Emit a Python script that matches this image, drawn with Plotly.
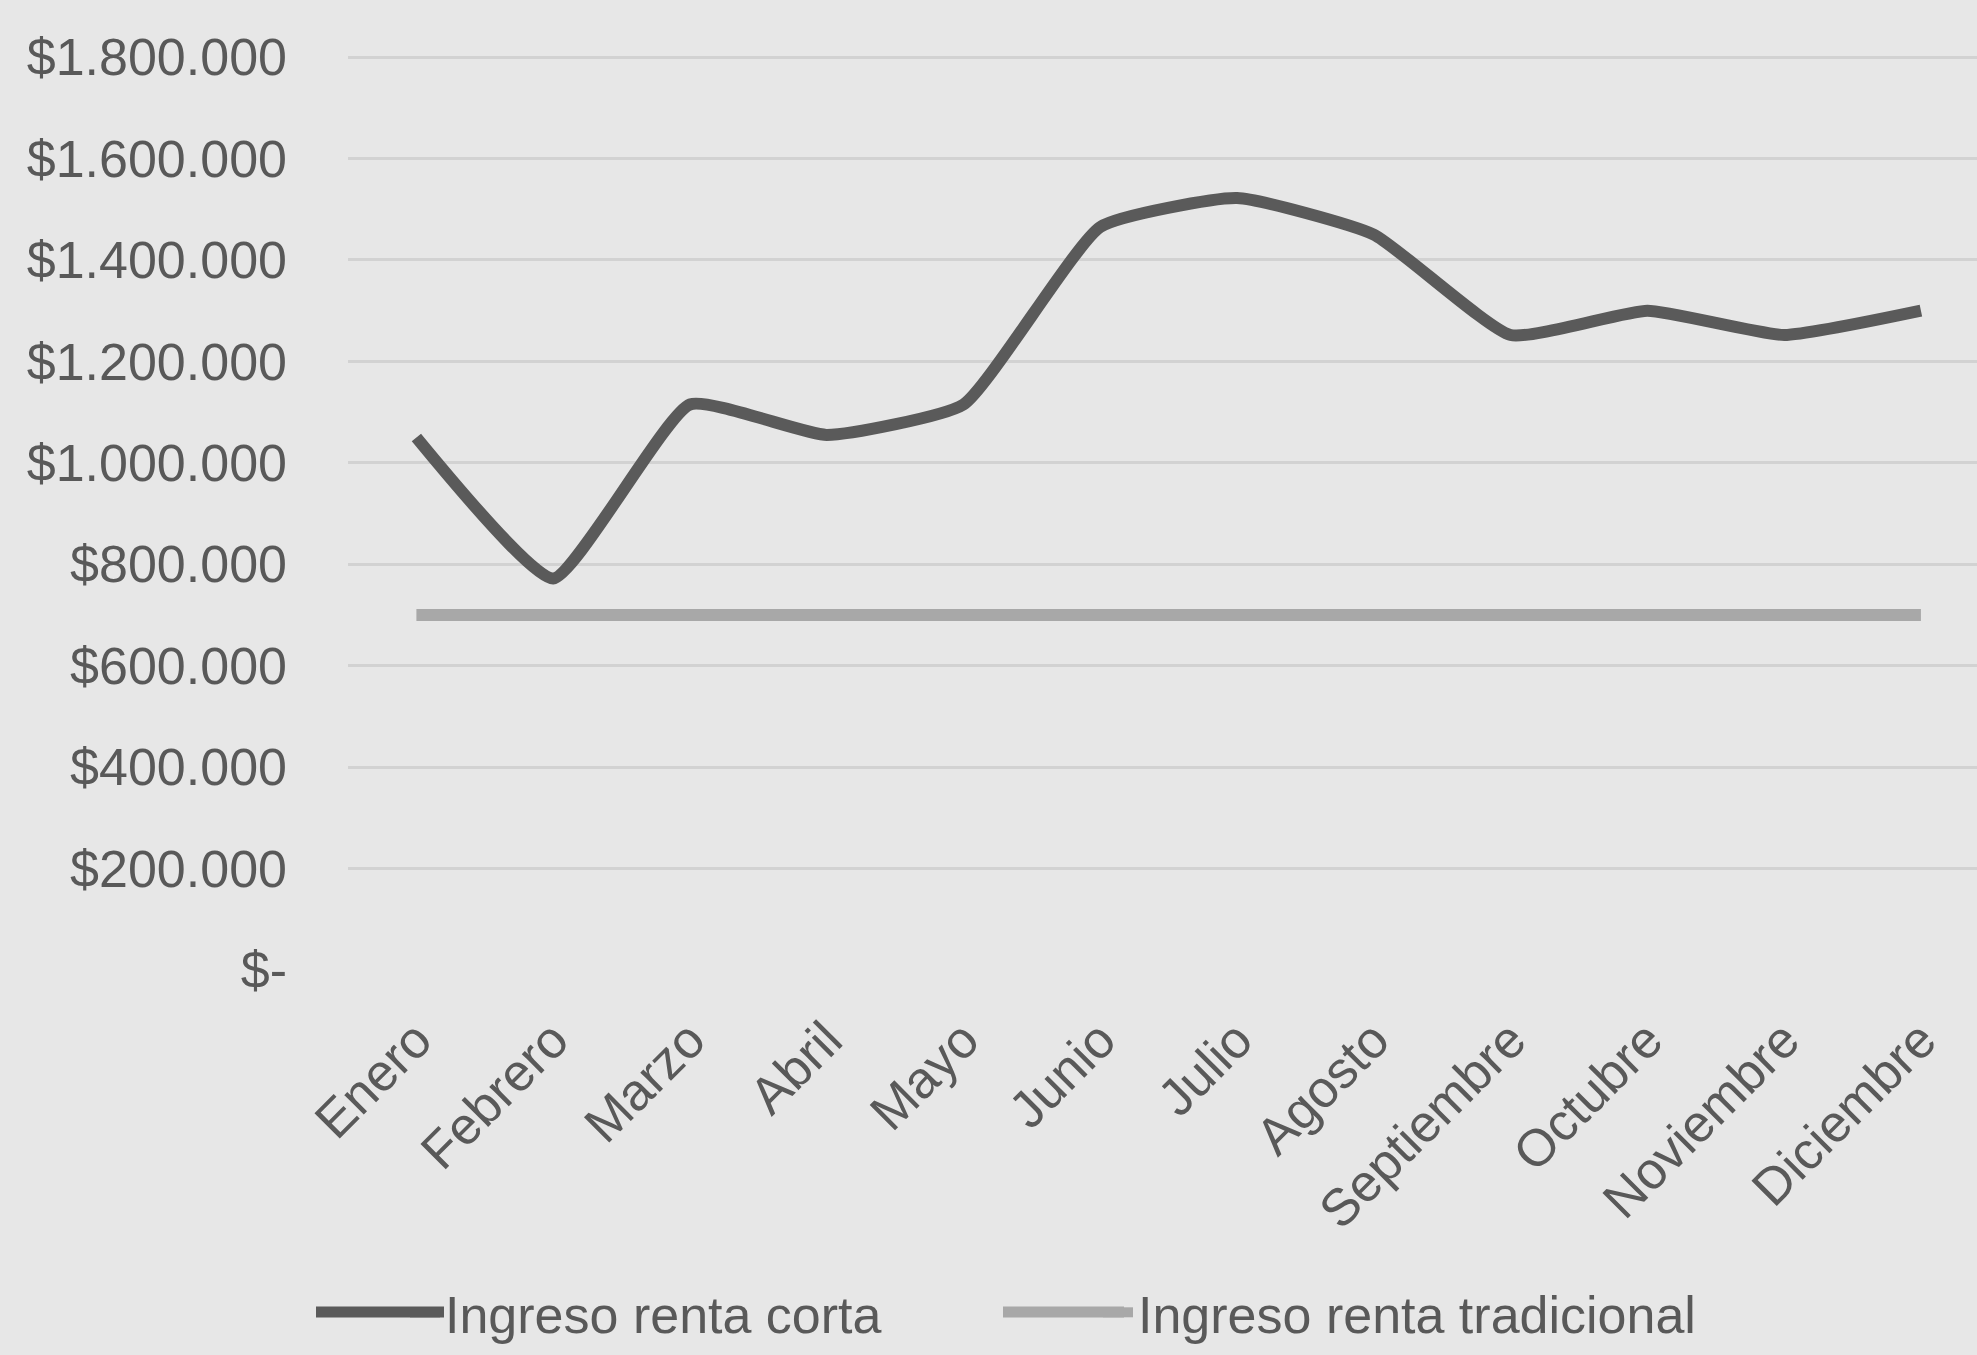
import plotly.graph_objects as go

meses = ["Enero", "Febrero", "Marzo", "Abril", "Mayo", "Junio", "Julio",
         "Agosto", "Septiembre", "Octubre", "Noviembre", "Diciembre"]
renta_corta = [1050000, 772000, 1115000, 1055000, 1115000, 1465000, 1522000,
               1450000, 1252000, 1300000, 1252000, 1300000]
renta_tradicional = [700000] * 12
y_ticks = [0, 200000, 400000, 600000, 800000, 1000000, 1200000, 1400000, 1600000, 1800000]
y_tick_text = ["$-", "$200.000", "$400.000", "$600.000", "$800.000", "$1.000.000",
               "$1.200.000", "$1.400.000", "$1.600.000", "$1.800.000"]

FONT = "Liberation Sans, Arial, sans-serif"
TXT = "#595959"
C_CORTA = "#5a5a5a"
C_TRAD = "#a8a8a8"

fig = go.Figure()
fig.add_trace(go.Scatter(x=meses, y=renta_corta, mode="lines",
                         name="Ingreso renta corta",
                         line=dict(color=C_CORTA, width=12, shape="spline", smoothing=0.45)))
fig.add_trace(go.Scatter(x=meses, y=renta_tradicional, mode="lines",
                         name="Ingreso renta tradicional",
                         line=dict(color=C_TRAD, width=12)))

# plot area: x 348..1977 px, y 52..970 px
def px_x(p):
    return (p - 348) / 1629.0

def px_y(p):
    return (970 - p) / 918.0

legend_y_px = 1312
shapes = [
    dict(type="line", xref="paper", yref="paper", x0=px_x(316), x1=px_x(444),
         y0=px_y(legend_y_px), y1=px_y(legend_y_px), line=dict(color=C_CORTA, width=11)),
    dict(type="line", xref="paper", yref="paper", x0=px_x(1003), x1=px_x(1124),
         y0=px_y(legend_y_px), y1=px_y(legend_y_px), line=dict(color=C_TRAD, width=11)),
]

fig.update_layout(
    width=1977, height=1355,
    paper_bgcolor="#e7e7e7", plot_bgcolor="#e7e7e7",
    margin=dict(l=348, r=0, t=52, b=385),
    font=dict(family=FONT, size=52, color=TXT),
    showlegend=True,
    legend=dict(orientation="h", x=px_x(405), xanchor="left", y=px_y(1353), yanchor="bottom",
                font=dict(size=52, color=TXT), bgcolor="rgba(0,0,0,0)",
                entrywidth=648),
    shapes=shapes,
)
fig.update_xaxes(type="category", categoryorder="array", categoryarray=meses,
                 range=[-0.5, 11.41], showgrid=False, showline=False, ticks="",
                 tickangle=-45, tickfont=dict(size=52, color=TXT), ticklabelstandoff=28,
                 automargin=False)
fig.update_yaxes(range=[0, 1810000], tickvals=y_ticks, ticktext=y_tick_text,
                 showgrid=True, gridcolor="#d2d2d2", gridwidth=3, zeroline=False,
                 showline=False, ticks="", tickfont=dict(size=52, color=TXT),
                 ticklabelstandoff=60, automargin=False)

fig.write_html("out.html", config={"displayModeBar": False},
               post_script="document.body.style.margin='0';document.body.style.background='#e7e7e7';")
